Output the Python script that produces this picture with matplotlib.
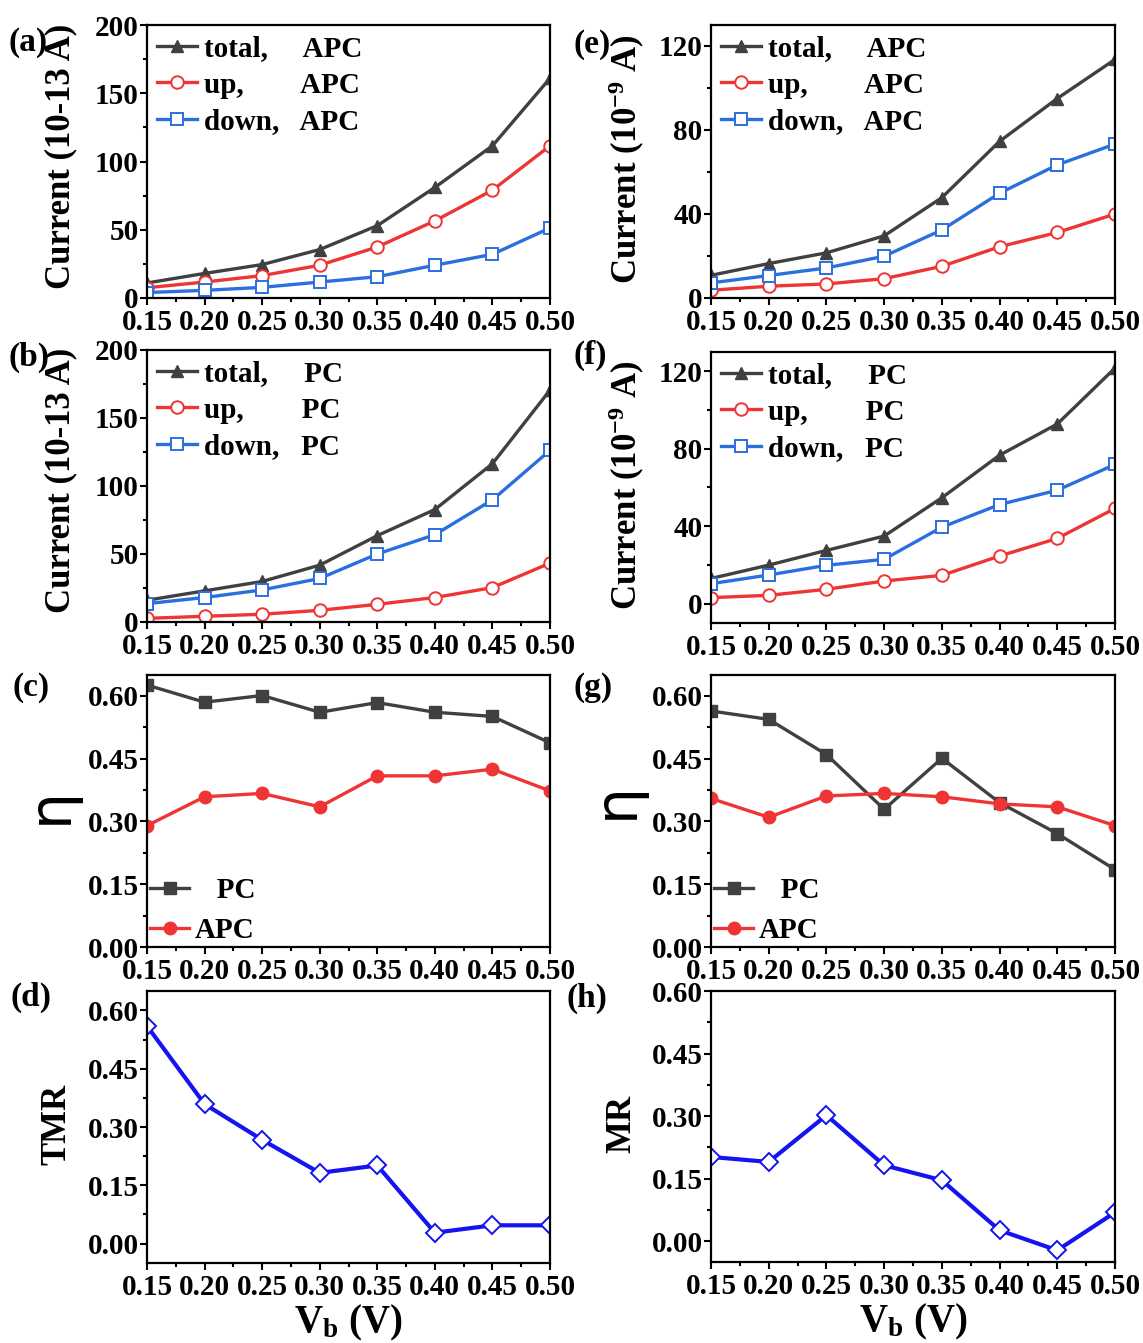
import matplotlib
matplotlib.use('Agg')
import matplotlib.pyplot as plt
from matplotlib.ticker import MultipleLocator, FormatStrFormatter

plt.rcParams['font.family'] = ['Liberation Serif', 'DejaVu Sans']
plt.rcParams['font.weight'] = 'bold'
plt.rcParams['axes.labelweight'] = 'bold'
plt.rcParams['mathtext.fontset'] = 'custom'
plt.rcParams['mathtext.rm'] = 'Liberation Serif:bold'
plt.rcParams['mathtext.bf'] = 'Liberation Serif:bold'
plt.rcParams['mathtext.it'] = 'Liberation Serif:bold'

# bias voltage (V)
vb = [0.15, 0.20, 0.25, 0.30, 0.35, 0.40, 0.45, 0.50]

# (a) APC, current in 1e-13 A
a_total = [11, 18, 24.5, 35.5, 53, 81, 111.5, 161]
a_up = [7.5, 11.7, 16.4, 24, 37.4, 56.5, 79, 111.5]
a_down = [4, 5.6, 7.8, 11.7, 15.6, 24, 32, 51.3]

# (b) PC, current in 1e-13 A
b_total = [16, 22.9, 29.8, 41.8, 63.5, 82.7, 116.4, 170.5]
b_up = [2.7, 4.2, 5.7, 8.6, 13, 18, 25.3, 43.3]
b_down = [13.5, 18, 23.6, 32, 50, 64.2, 89.8, 126.2]

# (e) APC, current in 1e-9 A
e_total = [10.8, 16.4, 21.5, 29.6, 47.8, 74.6, 95, 113.6]
e_up = [3.7, 5.6, 6.7, 9.2, 15.1, 24.4, 31.2, 40]
e_down = [7.2, 10.7, 14.3, 19.9, 32.4, 49.9, 63.4, 73.3]

# (f) PC, current in 1e-9 A
f_total = [13, 19.9, 27.5, 34.9, 54.7, 76.7, 92.8, 121.7]
f_up = [3.1, 4.3, 7.4, 11.7, 14.6, 24.6, 33.7, 49.2]
f_down = [10.3, 14.8, 19.8, 22.9, 39.5, 51.2, 58.6, 71.9]

# (c), (g) spin polarization eta
c_pc = [0.626, 0.585, 0.601, 0.561, 0.584, 0.561, 0.551, 0.488]
c_apc = [0.290, 0.359, 0.367, 0.335, 0.409, 0.409, 0.425, 0.373]
g_pc = [0.564, 0.544, 0.460, 0.329, 0.451, 0.345, 0.271, 0.185]
g_apc = [0.355, 0.310, 0.361, 0.367, 0.359, 0.342, 0.335, 0.290]

# (d) TMR, (h) MR
d_tmr = [0.560, 0.359, 0.267, 0.182, 0.201, 0.028, 0.047, 0.047]
h_mr = [0.202, 0.190, 0.302, 0.182, 0.146, 0.026, -0.022, 0.069]

GRAY = '#404040'
RED = '#ef3434'
BLUE = '#2a6fe0'
DBLUE = '#1414f0'
FS = 21

fig = plt.figure(figsize=(11.43, 13.43), dpi=100)
W, H = 1143, 1343


def make_ax(left, top, right, bottom):
    return fig.add_axes([left / W, 1 - bottom / H, (right - left) / W, (bottom - top) / H])


def style(ax, ylim, major, minor, fmt):
    ax.set_xlim(0.15, 0.50)
    ax.set_xticks(vb)
    ax.xaxis.set_minor_locator(MultipleLocator(0.025))
    ax.xaxis.set_major_formatter(FormatStrFormatter('%.2f'))
    ax.set_ylim(*ylim)
    ax.yaxis.set_major_locator(MultipleLocator(major))
    ax.yaxis.set_minor_locator(MultipleLocator(minor))
    ax.yaxis.set_major_formatter(FormatStrFormatter(fmt))
    ax.tick_params(which='both', direction='out', width=1.5, labelsize=FS)
    ax.tick_params(axis='y', pad=1)
    ax.tick_params(axis='x', pad=3)
    ax.tick_params(which='major', length=5)
    ax.tick_params(which='minor', length=3)
    for s in ax.spines.values():
        s.set_linewidth(1.6)


def current_panel(ax, tot, up, dn, cfg, ylabel):
    ax.plot(vb, tot, '-^', color=GRAY, lw=2.4, ms=9, label='total,     ' + cfg)
    ax.plot(vb, up, '-o', color=RED, lw=2.4, ms=9, mfc='white', mew=1.4,
            label='up,        ' + cfg)
    ax.plot(vb, dn, '-s', color=BLUE, lw=2.4, ms=8, mfc='white', mew=1.4,
            label='down,   ' + cfg)
    ax.legend(loc='upper left', frameon=False, fontsize=FS, handlelength=1.35,
              handletextpad=0.25, borderaxespad=0.0, labelspacing=0.32, borderpad=0.35)
    ax.set_ylabel(ylabel, fontsize=25)


def eta_panel(ax, pc, apc):
    ax.plot(vb, pc, '-s', color=GRAY, lw=2.4, ms=9, label='   PC')
    ax.plot(vb, apc, '-o', color=RED, lw=2.4, ms=9, label='APC')
    ax.legend(loc='lower left', frameon=False, fontsize=FS, handlelength=1.35,
              handletextpad=0.2, borderaxespad=0.0, labelspacing=0.45, borderpad=0.1)
    ax.set_ylabel('η', fontsize=42, fontweight='normal', family='DejaVu Sans')


# left column
ax_a = make_ax(147, 25, 550, 298)
current_panel(ax_a, a_total, a_up, a_down, 'APC', 'Current (10-13 A)')
style(ax_a, (0, 200), 50, 25, '%d')
ax_a.yaxis.set_label_coords(-0.172, 0.52)

ax_b = make_ax(147, 350, 550, 622)
current_panel(ax_b, b_total, b_up, b_down, 'PC', 'Current (10-13 A)')
style(ax_b, (0, 200), 50, 25, '%d')
ax_b.yaxis.set_label_coords(-0.172, 0.52)

ax_c = make_ax(147, 675, 550, 947)
eta_panel(ax_c, c_pc, c_apc)
style(ax_c, (0, 0.65), 0.15, 0.075, '%.2f')
ax_c.yaxis.set_label_coords(-0.17, 0.52)

ax_d = make_ax(147, 991, 550, 1263)
ax_d.plot(vb, d_tmr, '-D', color=DBLUE, lw=3, ms=9, mfc='white', mew=1.4)
style(ax_d, (-0.05, 0.65), 0.15, 0.075, '%.2f')
ax_d.set_ylabel('TMR', fontsize=25)
ax_d.yaxis.set_label_coords(-0.182, 0.51)
ax_d.set_xlabel(r'V$_{\mathregular{b}}$ (V)', fontsize=28, labelpad=1)

# right column
ax_e = make_ax(711, 25, 1115, 298)
current_panel(ax_e, e_total, e_up, e_down, 'APC', r'Current (10$^{\mathregular{-9}}$ A)')
style(ax_e, (0, 130), 40, 20, '%d')
ax_e.yaxis.set_label_coords(-0.158, 0.51)

ax_f = make_ax(711, 352, 1115, 623)
current_panel(ax_f, f_total, f_up, f_down, 'PC', r'Current (10$^{\mathregular{-9}}$ A)')
style(ax_f, (-10, 130), 40, 20, '%d')
ax_f.yaxis.set_label_coords(-0.158, 0.51)

ax_g = make_ax(711, 675, 1115, 947)
eta_panel(ax_g, g_pc, g_apc)
style(ax_g, (0, 0.65), 0.15, 0.075, '%.2f')
ax_g.yaxis.set_label_coords(-0.163, 0.54)

ax_h = make_ax(711, 991, 1115, 1262)
ax_h.plot(vb, h_mr, '-D', color=DBLUE, lw=3, ms=9, mfc='white', mew=1.4)
style(ax_h, (-0.05, 0.60), 0.15, 0.075, '%.2f')
ax_h.set_ylabel('MR', fontsize=25)
ax_h.yaxis.set_label_coords(-0.18, 0.51)
ax_h.set_xlabel(r'V$_{\mathregular{b}}$ (V)', fontsize=28, labelpad=1)

# panel letters
letters = [('(a)', 9, 42), ('(b)', 9, 357), ('(c)', 13, 688), ('(d)', 11, 997),
           ('(e)', 574, 45), ('(f)', 574, 355), ('(g)', 574, 688), ('(h)', 566, 998)]
for txt, px, py in letters:
    fig.text(px / W, 1 - py / H, txt, fontsize=24, fontweight='bold', va='center', ha='left')

fig.savefig('out.png', dpi=100)
